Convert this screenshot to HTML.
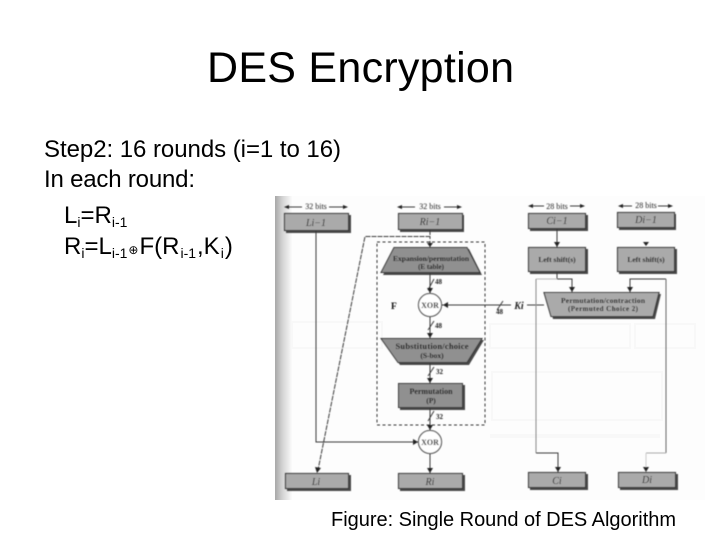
<!DOCTYPE html>
<html>
<head>
<meta charset="utf-8">
<style>
html,body{margin:0;padding:0;background:#fff;width:720px;height:540px;overflow:hidden}
svg{display:block}
.t{font-family:"Liberation Sans",sans-serif;fill:#000}
.s{font-family:"Liberation Serif",serif;fill:#111;font-weight:bold}
.l{font-family:"Liberation Serif",serif;fill:#222}
.b{fill:#aaa;stroke:#333;stroke-width:1.100}
.d{fill:#909090;stroke:#333;stroke-width:1}
.sh{fill:#4a4a4a}
.c{fill:none;stroke:#3a3a3a;stroke-width:1}
.a{fill:#222}
</style>
</head>
<body>
<svg width="720" height="540" viewBox="0 0 720 540" xmlns="http://www.w3.org/2000/svg">
<defs>
<linearGradient id="g" x1="0" x2="1" y1="0" y2="0">
<stop offset="0" stop-color="#a8a8a8"/>
<stop offset="0.45" stop-color="#d4d4d4"/>
<stop offset="1" stop-color="#fbfbfb"/>
</linearGradient>
<filter id="bl" x="-2%" y="-2%" width="104%" height="104%"><feGaussianBlur stdDeviation="0.45"/></filter>
</defs>

<rect x="275" y="196" width="17" height="304" fill="url(#g)"/>
<rect x="292" y="196" width="413" height="304" fill="#fdfdfd"/>
<g fill="none" stroke="#f8f8f8" stroke-width="2">
<rect x="292" y="322" width="90" height="26"/>
<rect x="490" y="324" width="140" height="24"/>
<rect x="635" y="324" width="60" height="24"/>
<rect x="492" y="372" width="170" height="48"/>
</g>
<rect x="490" y="434" width="170" height="4" fill="#f8f8f8"/>

<g filter="url(#bl)">
<!-- shadows -->
<rect class="sh" x="286" y="215" width="65" height="18"/>
<rect class="sh" x="400" y="215" width="64" height="17"/>
<rect class="sh" x="530" y="215" width="58" height="16"/>
<rect class="sh" x="619" y="214" width="57" height="16"/>
<rect class="sh" x="530" y="249" width="58" height="25"/>
<rect class="sh" x="619" y="249" width="58" height="25"/>
<rect class="sh" x="400" y="385" width="65" height="25"/>
<rect class="sh" x="287" y="475" width="64" height="16"/>
<rect class="sh" x="400" y="475" width="65" height="16"/>
<rect class="sh" x="530" y="474" width="58" height="16"/>
<rect class="sh" x="620" y="474" width="58" height="16"/>
<polygon class="sh" points="396,249 469,249 482,275 383,275"/>
<polygon class="sh" points="383,340 484,340 469,365 400,365"/>
<polygon class="sh" points="546,294 661,294 655,319 553,319"/>

<!-- connectors -->
<path class="c" d="M316 231V442H418"/>
<path class="c" stroke-dasharray="5 1" d="M430 230V236.500H365L318 470"/>
<path class="c" stroke-dasharray="2 2" d="M430 237V247"/>
<rect x="377" y="242" width="108" height="183" fill="none" stroke="#333" stroke-width="1" stroke-dasharray="3 2.500"/>
<path class="c" d="M430 273V293M430 317V338M430 363V383M430 408V430M430 454V473"/>
<path class="c" d="M544 305H527M511 305H442"/>
<path class="c" d="M557 229V247"/>
<path class="c" d="M557 272V279H572V292"/>
<path class="c" style="stroke:#bbb" d="M557 279H536"/>
<path class="c" style="stroke:#888" d="M536 279V453"/>
<path class="c" d="M536 453H558V472"/>
<path class="c" d="M630 292V279H666"/>
<path class="c" style="stroke:#666" d="M666 279V453"/>
<path class="c" style="stroke:#aaa" d="M666 453H646"/>
<path class="c" style="stroke:#ccc" d="M646 453V472"/>

<!-- slash ticks -->
<path class="c" d="M428 290L434 279M428 330L434 321M428 376L434 367M428 421L434 411M497 310L503 301"/>

<!-- arrowheads -->
<polygon class="a" points="427,243 433,243 430,247"/>
<polygon class="a" points="427,288 433,288 430,293"/>
<polygon class="a" points="427,333 433,333 430,338"/>
<polygon class="a" points="427,378 433,378 430,383"/>
<polygon class="a" points="427,425 433,425 430,430"/>
<polygon class="a" points="427,468 433,468 430,473"/>
<polygon class="a" points="413,439 413,445 418,442"/>
<polygon class="a" points="448,302 448,308 443,305"/>
<polygon class="a" points="315,467 321,468 317,473"/>
<polygon class="a" points="554,242 560,242 557,247"/>
<polygon class="a" points="643,242 649,242 646,246"/>
<polygon class="a" points="569,287 575,287 572,292"/>
<polygon class="a" points="627,287 633,287 630,292"/>
<polygon class="a" points="555,467 561,467 558,472"/>
<polygon class="a" points="643,467 649,467 646,472"/>

<!-- boxes -->
<rect class="b" x="284.500" y="213.500" width="64" height="17"/>
<rect class="b" x="398.500" y="213.500" width="64" height="16"/>
<rect class="b" x="528.500" y="213.500" width="57" height="15"/>
<rect class="b" x="617.500" y="212.500" width="57" height="15"/>
<rect class="b" x="528.500" y="247.500" width="57" height="24"/>
<rect class="b" x="617.500" y="247.500" width="57" height="24"/>
<rect class="d" x="398.500" y="383.500" width="64" height="24"/>
<rect class="b" x="285.500" y="473.500" width="63" height="15"/>
<rect class="b" x="398.500" y="473.500" width="64" height="15"/>
<rect class="b" x="528.500" y="472.500" width="57" height="15"/>
<rect class="b" x="618.500" y="472.500" width="57" height="15"/>
<polygon class="d" points="394,247.500 467,247.500 480,272.500 381,272.500"/>
<polygon class="d" points="381,338.500 482,338.500 467,362.500 398,362.500"/>
<polygon class="b" points="544,292.500 659,292.500 653,316.500 551,316.500"/>
<circle cx="430" cy="305" r="11.500" fill="#fff" stroke="#222" stroke-width="1"/>
<circle cx="430" cy="442" r="11.500" fill="#fff" stroke="#222" stroke-width="1"/>

<!-- labels -->
<g font-size="8">
<text class="l" x="316" y="209" text-anchor="middle">32 bits</text>
<text class="l" x="430" y="209" text-anchor="middle">32 bits</text>
<text class="l" x="557" y="209" text-anchor="middle">28 bits</text>
<text class="l" x="646" y="208" text-anchor="middle">28 bits</text>
</g>
<path class="c" d="M285 207H302M329 207H347M398 207H415M444 207H461M529 206H544M570 206H584M619 206H632M658 206H672"/>
<polygon class="a" points="284,207 289,205 289,209"/><polygon class="a" points="348,207 343,205 343,209"/>
<polygon class="a" points="397,207 402,205 402,209"/><polygon class="a" points="462,207 457,205 457,209"/>
<polygon class="a" points="528,206 533,204 533,208"/><polygon class="a" points="585,206 580,204 580,208"/>
<polygon class="a" points="618,206 623,204 623,208"/><polygon class="a" points="673,206 668,204 668,208"/>

<g font-size="10" font-style="italic" text-anchor="middle">
<text class="l" x="316" y="226">Li−1</text>
<text class="l" x="430" y="225">Ri−1</text>
<text class="l" x="557" y="224">Ci−1</text>
<text class="l" x="646" y="223">Di−1</text>
<text class="l" x="316" y="485">Li</text>
<text class="l" x="430" y="485">Ri</text>
<text class="l" x="557" y="484">Ci</text>
<text class="l" x="647" y="483">Di</text>
<text class="l" x="519" y="309" font-weight="bold">Ki</text>
</g>
<g text-anchor="middle">
<text class="s" x="431" y="261" font-size="7.500" textLength="76">Expansion/permutation</text>
<text class="s" x="431" y="269" font-size="7">(E table)</text>
<text class="s" x="432" y="349" font-size="8.500" textLength="73">Substitution/choice</text>
<text class="s" x="432" y="358" font-size="7.500">(S-box)</text>
<text class="s" x="431" y="394" font-size="8">Permutation</text>
<text class="s" x="431" y="403" font-size="7.500">(P)</text>
<text class="s" x="557" y="262" font-size="7.500">Left shift(s)</text>
<text class="s" x="646" y="262" font-size="7.500">Left shift(s)</text>
<text class="s" x="603" y="303" font-size="7.500" textLength="84">Permutation/contraction</text>
<text class="s" x="603" y="311" font-size="7" textLength="70">(Permuted Choice 2)</text>
<text class="s" x="430" y="308" font-size="8">XOR</text>
<text class="s" x="430" y="445" font-size="8">XOR</text>
</g>
<text class="s" x="391" y="309" font-size="9.500">F</text>
<g font-size="7" font-weight="bold">
<text class="l" x="435" y="284">48</text>
<text class="l" x="435" y="328">48</text>
<text class="l" x="436" y="374">32</text>
<text class="l" x="436" y="419">32</text>
<text class="l" x="496" y="314">48</text>
</g>
</g>

<!-- slide text -->
<text class="t" x="207" y="82" font-size="43" textLength="307" lengthAdjust="spacing">DES Encryption</text>
<text class="t" x="44" y="157" font-size="24" textLength="297">Step2: 16 rounds (i=1 to 16)</text>
<text class="t" x="44" y="187" font-size="24" textLength="151">In each round:</text>
<text class="t" x="64" y="223" font-size="24">L<tspan font-size="14" dy="4">i</tspan><tspan dy="-4">=R</tspan><tspan font-size="14" dy="4">i-1</tspan></text>
<text class="t" x="64" y="254" font-size="24">R<tspan font-size="14" dy="4">i</tspan><tspan dy="-4">=L</tspan><tspan font-size="14" dy="4">i-1</tspan><tspan dy="-4" dx="1" font-size="12" font-family="DejaVu Sans">⊕</tspan><tspan dx="1">F(R</tspan><tspan font-size="14" dy="4" dx="1">i-1</tspan><tspan dy="-4" dx="1">,K</tspan><tspan font-size="14" dy="4" dx="1">i</tspan><tspan dy="-4" dx="1">)</tspan></text>
<text class="t" x="331" y="526" font-size="20" textLength="345">Figure: Single Round of DES Algorithm</text>
</svg>
</body>
</html>
